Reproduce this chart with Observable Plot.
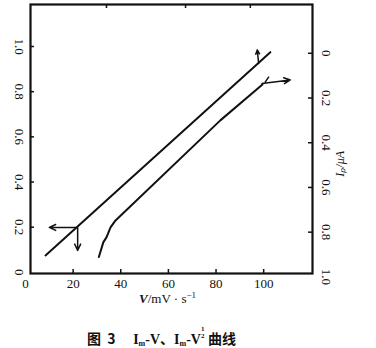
<!DOCTYPE html>
<html><head><meta charset="utf-8">
<script src="https://cdn.jsdelivr.net/npm/d3@7"></script>
<script src="https://cdn.jsdelivr.net/npm/@observablehq/plot@0.6"></script>
<style>
body{margin:0;background:#fff;}
#chart{width:376px;height:318px;}
#cap{margin-top:8px;height:22px;line-height:22px;padding-left:87px;font:bold 14px "Liberation Serif","Noto Sans CJK SC",serif;color:#111;white-space:nowrap;}
#cap .zh{font-family:"Noto Sans CJK SC",sans-serif;font-weight:bold;}
#cap sub{font-size:8px;vertical-align:-2px;line-height:0;}
.frac{display:inline-block;vertical-align:6px;font-size:7px;line-height:7px;text-align:center;}
.frac span{display:block;}
</style></head>
<body>
<div id="chart"></div>
<div id="cap"><span class="zh">图&nbsp; 3</span>&nbsp;&nbsp;&nbsp;&nbsp; I<sub>m</sub>-V、I<sub>m</sub>-V<span class="frac"><span>1</span><span>2</span></span> <span class="zh">曲线</span></div>
<script>
// ---- data ----
const xTickLabels = [0, 20, 40, 60, 80, 100];
const xTickMarks = [20, 40, 60, 80, 100];
const topTickMarks = [34, 67.2, 94.4];
const leftTicks = [0, 0.2, 0.4, 0.6, 0.8, 1.0];
const rightTicks = [0, 0.2, 0.4, 0.6, 0.8, 1.0];

// upper line (V, left axis)
const vUpper = [8.4, 102.8];
const iUpper = [0.075, 0.975];
// lower line
const vLower = [30.8, 32.7, 34.0, 35.7, 37.8, 81.8, 99.5];
const iLower = [0.068, 0.134, 0.155, 0.199, 0.230, 0.673, 0.832];

// axis-indicator arrows
const arrowX1 = [21.4, 21.9, 97.9, 99.3];
const arrowY1 = [0.199, 0.199, 0.925, 0.836];
const arrowX2 = [10.0, 21.9, 97.3, 111.2];
const arrowY2 = [0.199, 0.097, 0.985, 0.852];
const stubX1 = [100.5], stubY1 = [0.840], stubX2 = [102.2], stubY2 = [0.867];

const xTitle = "V/mV · s-1";
const rightTitle = "Iₚ/μA";

// right axis (reversed, 0 at top) mapped onto the left scale
const toLeft = r => 0.97 - 0.99 * r;

const W = 376, H = 318;
const mL = 30, mR = 64, mT = 4, mB = 45;
const fw = W - mL - mR, fh = H - mT - mB;
const font = "Liberation Serif";
const fmt = d => d === 0 ? "0" : d.toFixed(1);

const upper = vUpper.map((v, i) => ({v, y: iUpper[i]}));
const lower = vLower.map((v, i) => ({v, y: iLower[i]}));
const arrows = arrowX1.map((x1, i) => ({x1, y1: arrowY1[i], x2: arrowX2[i], y2: arrowY2[i]}));
const stubs = stubX1.map((x1, i) => ({x1, y1: stubY1[i], x2: stubX2[i], y2: stubY2[i]}));

const plot = Plot.plot({
  width: W, height: H,
  marginLeft: mL, marginRight: mR, marginTop: mT, marginBottom: mB,
  style: {fontFamily: font, background: "#fff", color: "#111"},
  x: {domain: [2.1, 120.5], axis: null},
  y: {domain: [-0.005, 1.186], axis: null},
  marks: [
    Plot.frame({stroke: "#111", strokeWidth: 2.2}),
    // inward tick marks
    Plot.ruleX(xTickMarks, {x: d => d, insetTop: fh - 4, stroke: "#111", strokeWidth: 1.5}),
    Plot.ruleX(topTickMarks, {x: d => d, insetBottom: fh - 4, stroke: "#111", strokeWidth: 1.5}),
    Plot.ruleY(leftTicks.filter(d => d > 0), {y: d => d, insetRight: fw - 4, stroke: "#111", strokeWidth: 1.5}),
    Plot.ruleY(rightTicks.filter(d => d < 1), {y: d => toLeft(d), insetLeft: fw - 4, stroke: "#111", strokeWidth: 1.5}),
    // tick labels
    Plot.text(xTickLabels, {x: d => d, frameAnchor: "bottom", dy: 14, text: d => String(d), fontSize: 13, fill: "#111"}),
    Plot.text(leftTicks, {y: d => d, frameAnchor: "left", dx: -11, rotate: 90, text: fmt, fontSize: 13, fill: "#111", textAnchor: "middle", lineAnchor: "middle"}),
    Plot.text(rightTicks, {y: d => toLeft(d), frameAnchor: "right", dx: 14, rotate: 90, text: fmt, fontSize: 13, fill: "#111", textAnchor: "middle", lineAnchor: "middle"}),
    // axis titles
    Plot.text([xTitle], {frameAnchor: "bottom", dy: 29, dx: -4, text: d => d, fontSize: 13, fill: "#111"}),
    Plot.text([rightTitle], {frameAnchor: "right", dx: 28, dy: 12, rotate: -90, text: d => d, fontSize: 12, fontStyle: "italic", fill: "#111"}),
    // data lines
    Plot.line(upper, {x: "v", y: "y", stroke: "#111", strokeWidth: 2}),
    Plot.line(lower, {x: "v", y: "y", stroke: "#111", strokeWidth: 2}),
    Plot.arrow(arrows, {x1: "x1", y1: "y1", x2: "x2", y2: "y2", stroke: "#111", strokeWidth: 1.5, headLength: 7, headAngle: 50}),
    Plot.link(stubs, {x1: "x1", y1: "y1", x2: "x2", y2: "y2", stroke: "#111", strokeWidth: 1.5})
  ]
});
document.getElementById("chart").appendChild(plot);

// rich text for the x title: italic V and superscript −1
for (const t of plot.querySelectorAll("text")) {
  if (t.textContent === xTitle) {
    t.innerHTML = '<tspan font-style="italic" font-weight="bold">V</tspan>/mV · s<tspan dy="-5" font-size="9">−1</tspan>';
  }
}
</script>
</body></html>
